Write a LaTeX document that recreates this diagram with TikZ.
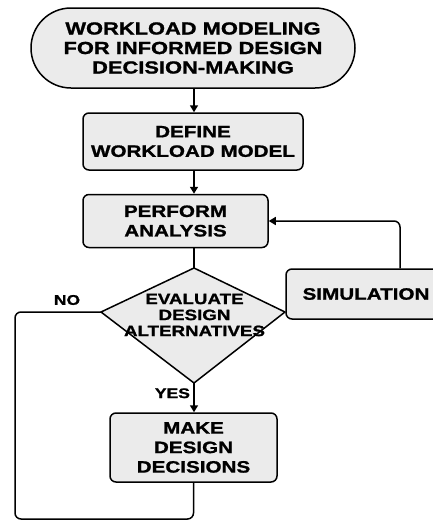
\documentclass[tikz,border=0pt]{standalone}
\usepackage{fontspec}
\setmainfont{Liberation Sans}[FakeStretch=1.25, BoldFeatures={FakeBold=1.2}]
\usepackage{tikz}
\usetikzlibrary{arrows.meta, positioning, calc}

\begin{document}
\begin{tikzpicture}[x=1pt, y=-1pt, >={Triangle[length=7pt,width=8pt]},
    line width=1.5pt, line join=round,
    box/.style={draw, fill=black!8, rounded corners=6pt, inner sep=0pt, align=center,
      font=\fontsize{16.5}{19.5}\selectfont\bfseries},
    lbl/.style={font=\fontsize{14}{16}\selectfont\bfseries}]
  \useasboundingbox (0,0) rectangle (433,520);
  \clip (0,0) rectangle (433,520);

  \node[box, rounded corners=40pt, minimum width=324pt, minimum height=80pt,
    font=\fontsize{17.5}{19.5}\selectfont\bfseries] (title) at (193,48)
    {WORKLOAD MODELING\\FOR INFORMED DESIGN\\DECISION-MAKING};
  \node[box, minimum width=220pt, minimum height=57pt] (define) at (193,141.5)
    {DEFINE\\WORKLOAD MODEL};
  \node[box, minimum width=185pt, minimum height=53pt] (perform) at (175.5,221)
    {PERFORM\\ANALYSIS};

  % decision kite
  \coordinate (evt) at (194,268);
  \coordinate (evr) at (285,312);
  \coordinate (evb) at (194,383);
  \coordinate (evl) at (101,312);
  \draw[fill=black!8] (evt) -- (evr) -- (evb) -- (evl) -- cycle;
  \node[align=center, font=\fontsize{15}{16}\selectfont\bfseries] (eval) at (194.5,315)
    {EVALUATE\\DESIGN\\ALTERNATIVES};

  \node[box, minimum width=160pt, minimum height=50pt] (sim) at (366,294) {SIMULATION};
  \node[box, minimum width=167pt, minimum height=69pt] (make) at (193.5,447.5)
    {MAKE\\DESIGN\\DECISIONS};

  \draw[->] (title.south -| 194,0) -- (define.north -| 194,0);
  \draw[->] (define.south -| 194,0) -- (perform.north -| 194,0);
  \draw (perform.south -| evt) -- (evt);
  \draw[->] (evb) -- (make.north -| evb) node[lbl, pos=0.35, left] {YES};

  \coordinate (fbtop) at (400,221);
  \draw[->, rounded corners=6pt] (sim.north -| fbtop) |- (perform.east);

  \coordinate (nocorner) at (15,519);
  \draw[rounded corners=6pt] (evl) -| (nocorner) -| (make.south);
  \node[lbl] (no) at (67,300) {NO};
\end{tikzpicture}
\end{document}
